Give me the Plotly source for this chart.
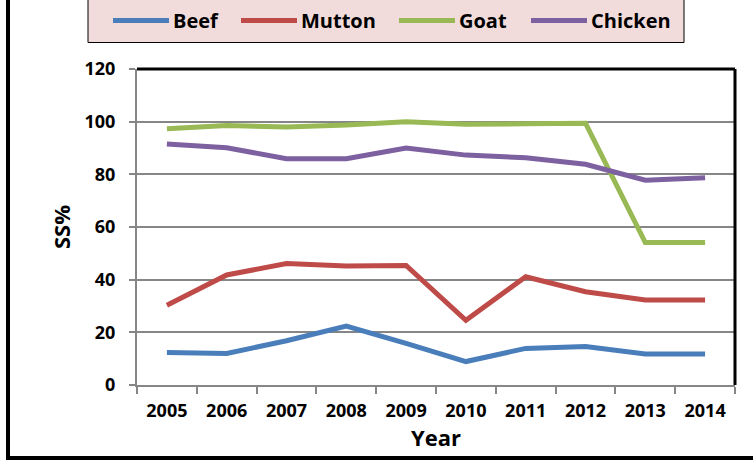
import plotly.graph_objects as go

years = ["2005", "2006", "2007", "2008", "2009", "2010", "2011", "2012", "2013", "2014"]
beef = [12.3, 12.0, 16.8, 22.4, 15.8, 8.9, 13.9, 14.6, 11.8, 11.8]
mutton = [30.3, 41.8, 46.1, 45.2, 45.4, 24.6, 41.1, 35.4, 32.3, 32.3]
goat = [97.3, 98.5, 98.0, 98.7, 100.0, 99.0, 99.2, 99.4, 54.1, 54.1]
chicken = [91.5, 90.1, 85.9, 85.9, 90.0, 87.3, 86.3, 83.8, 77.8, 78.7]

series = [
    ("Beef", beef, "#4A7EBB"),
    ("Mutton", mutton, "#BE4B48"),
    ("Goat", goat, "#98B954"),
    ("Chicken", chicken, "#7D60A0"),
]

FONT = "Open Sans"
GRAY = "#868686"

W, H = 753, 463
L, R, T, B = 137, 18, 69, 78
pw, ph = W - L - R, H - T - B


def px_x(p):
    return (p - L) / pw


def px_y(q):
    return (H - B - q) / ph


fig = go.Figure()
for name, vals, color in series:
    fig.add_trace(go.Scatter(
        x=years, y=vals, name=name, mode="lines",
        line=dict(color=color, width=5),
        showlegend=False,
    ))

# legend box drawn at the top of the chart, one sample line + label per series
legend_line_starts = [113, 241, 399, 531]
legend_line_len = 56
legend_mid_y = 20.5

shapes = [
    dict(type="rect", xref="paper", yref="paper",
         x0=px_x(88), x1=px_x(684), y0=px_y(42.5), y1=px_y(-20),
         line=dict(color="black", width=1), fillcolor="#F2DCDB", layer="above"),
]
annotations = []
for (name, _, color), x0 in zip(series, legend_line_starts):
    shapes.append(dict(
        type="line", xref="paper", yref="paper",
        x0=px_x(x0), x1=px_x(x0 + legend_line_len),
        y0=px_y(legend_mid_y), y1=px_y(legend_mid_y),
        line=dict(color=color, width=5), layer="above",
    ))
    annotations.append(dict(
        text=name, xref="paper", yref="paper",
        x=px_x(x0 + legend_line_len + 2), y=px_y(legend_mid_y - 0.5),
        xanchor="left", yanchor="middle", showarrow=False,
        font=dict(family=FONT, size=20, color="black", weight="bold"),
    ))

shapes += [
    # black top and right edges of the plot area
    dict(type="line", xref="paper", yref="paper", x0=0, x1=1, y0=1, y1=1,
         line=dict(color="black", width=3)),
    dict(type="line", xref="paper", yref="paper", x0=1, x1=1, y0=0, y1=1,
         line=dict(color="black", width=3)),
    # outer chart frame
    dict(type="rect", xref="paper", yref="paper",
         x0=px_x(8), x1=px_x(800), y0=px_y(458), y1=px_y(-40),
         line=dict(color="black", width=4), fillcolor="rgba(0,0,0,0)",
         layer="below"),
]

fig.update_layout(
    width=W, height=H,
    margin=dict(l=L, r=R, t=T, b=B, autoexpand=False),
    paper_bgcolor="white",
    plot_bgcolor="white",
    font=dict(family=FONT, color="black"),
    showlegend=False,
    xaxis=dict(
        type="category",
        range=[-0.5, 9.5],
        showline=True, linecolor=GRAY, linewidth=2,
        ticks="outside", ticklen=7, tickcolor=GRAY, tickwidth=1.5,
        tickson="boundaries",
        showgrid=False,
        ticklabelstandoff=8,
        tickfont=dict(family=FONT, size=18, color="black", weight="bold"),
        title=dict(text="Year", font=dict(family=FONT, size=22, color="black", weight="bold"), standoff=6),
    ),
    yaxis=dict(
        range=[0, 120], dtick=20,
        showline=True, linecolor=GRAY, linewidth=2,
        ticks="outside", ticklen=6, tickcolor=GRAY, tickwidth=1.5,
        showgrid=True, gridcolor=GRAY, gridwidth=1.5,
        zeroline=False,
        ticklabelstandoff=10,
        tickfont=dict(family=FONT, size=18, color="black", weight="bold"),
        title=dict(text="SS%", font=dict(family=FONT, size=22, color="black", weight="bold"), standoff=8),
    ),
    shapes=shapes,
    annotations=annotations,
)

fig.write_html("out.html")
